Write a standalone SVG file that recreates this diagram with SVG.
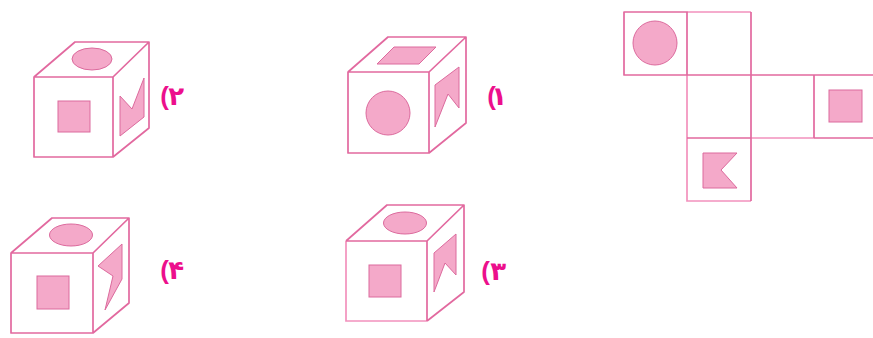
<svg xmlns="http://www.w3.org/2000/svg" width="873" height="338" viewBox="0 0 873 338">
<style>
.e{fill:none;stroke:#e2699f;stroke-width:1.7;stroke-linejoin:round}
.p{fill:none;stroke:#f291bd;stroke-width:1.7}
.s{fill:#f4a9c9;stroke:#dc6a9d;stroke-width:1}
.l{fill:#ec0f8c;font-family:"Liberation Sans","DejaVu Sans",sans-serif;font-weight:bold;font-size:26px;direction:rtl;text-anchor:start}
</style>
<rect width="873" height="338" fill="#ffffff"/>
<g id="cube-2">
<path class="e" d="M34 77H113V157H34ZM34 77L75 42H149L113 77M149 42V128L113 157"/>
<ellipse class="s" cx="92" cy="59" rx="20" ry="11"/>
<rect class="s" x="58" y="101" width="32" height="31"/>
<polygon class="s" points="120,96 132,109 144,78 144,117 120,136"/>
<text class="l" x="184 169" y="105">۲)</text>
</g>
<g id="cube-1">
<path class="e" d="M348 72H429V153H348ZM348 72L388 37H466L429 72M466 37V123L429 153"/>
<polygon class="s" points="377,64 419,64 436,47 394,47"/>
<circle class="s" cx="388" cy="113" r="22"/>
<polygon class="s" points="435,85 459,67 459,108 448,94 435,127"/>
<text class="l" x="507 496" y="105">۱)</text>
</g>
<g id="cube-4">
<path class="e" d="M11 253H93V333H11ZM11 253L52 218H129L93 253M129 218V303L93 333"/>
<ellipse class="s" cx="71" cy="235" rx="21.500" ry="11"/>
<rect class="s" x="37" y="276" width="32" height="33"/>
<polygon class="s" points="122,244 98,266 113,276 105,310 122,279"/>
<text class="l" x="184 169" y="279">۴)</text>
</g>
<g id="cube-3">
<path class="p" d="M346 241V321H427"/>
<path class="e" d="M346 241H427V321M346 241L387 205H464L427 241M464 205V292L427 321"/>
<ellipse class="s" cx="405" cy="223" rx="21.500" ry="11"/>
<rect class="s" x="369" y="265" width="32" height="32"/>
<polygon class="s" points="434,253 456,234 456,275 445,263 434,292"/>
<text class="l" x="506 490" y="280">۳)</text>
</g>
<g id="net">
<path class="p" d="M687 75V201H751M751 138H814M687 12H751"/>
<path class="e" d="M624 12H687V75H624ZM751 12V201M687 75H873M687 138H751M814 138H873M814 75V138"/>
<circle class="s" cx="655" cy="43" r="22"/>
<rect class="s" x="829" y="90" width="33" height="32"/>
<polygon class="s" points="703,153 737,153 721,170 737,188 703,188"/>
</g>
</svg>
